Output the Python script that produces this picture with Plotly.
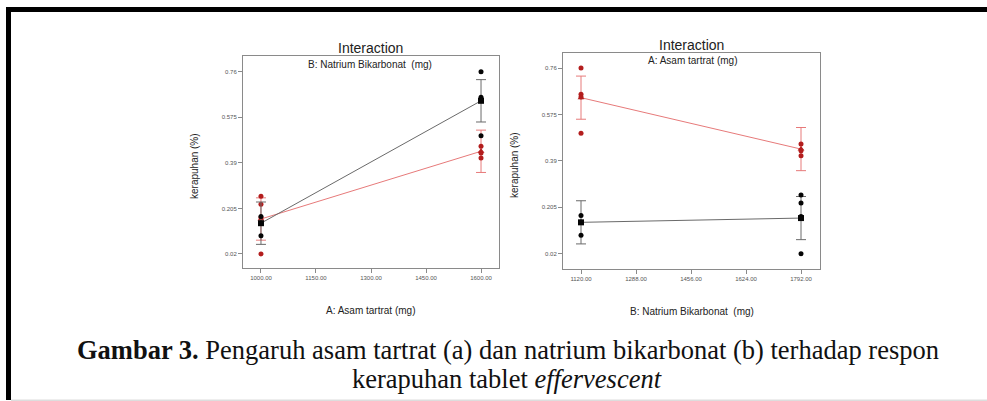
import plotly.graph_objects as go

W, H = 987, 401

# ---------------- data ----------------
a_levels = [1000, 1600]          # A: Asam tartrat (mg)
b_levels = [1120, 1792]          # B: Natrium Bikarbonat (mg)

# predicted means (interaction)
mean_b_low = [0.145, 0.642]      # B = 1120, over A levels
mean_b_high = [0.162, 0.437]     # B = 1792, over A levels
err_half = [0.086, 0.086]

# design points per cell
pts_a_low_b_low = [0.172, 0.145, 0.145, 0.094]
pts_a_low_b_high = [0.254, 0.222, 0.168, 0.02]
pts_a_high_b_low = [0.76, 0.656, 0.645, 0.50]
pts_a_high_b_high = [0.457, 0.43, 0.41]

y_ticks = [0.02, 0.205, 0.39, 0.575, 0.76]
y_tick_text = ["0.02", "0.205", "0.39", "0.575", "0.76"]
a_ticks = [1000, 1150, 1300, 1450, 1600]
b_ticks = [1120, 1288, 1456, 1624, 1792]

BLACK_LINE = "#6a6a6a"
BLACK_PT = "#050505"
RED_LINE = "#e77a7a"
RED_PT = "#b31d1d"
SANS = "Liberation Sans, Arial, sans-serif"
SERIF = "Liberation Serif, Times New Roman, serif"


def px(x):
    return x / W


def py(y):
    return 1 - y / H


fig = go.Figure()


def add_series(xlevels, means, pts_lists, line_color, pt_color, mean_symbol, xa, ya):
    fig.add_trace(go.Scatter(
        x=xlevels, y=means, mode="lines",
        line=dict(color=line_color, width=1),
        error_y=dict(type="data", array=err_half, color=line_color, thickness=1, width=5),
        xaxis=xa, yaxis=ya, showlegend=False, hoverinfo="skip"))
    px_, py_ = [], []
    for lvl, pts in zip(xlevels, pts_lists):
        for v in pts:
            px_.append(lvl)
            py_.append(v)
    fig.add_trace(go.Scatter(
        x=px_, y=py_, mode="markers",
        marker=dict(color=pt_color, size=5, symbol="circle"),
        xaxis=xa, yaxis=ya, showlegend=False))
    fig.add_trace(go.Scatter(
        x=xlevels, y=means, mode="markers",
        marker=dict(color=pt_color, size=6, symbol=mean_symbol),
        xaxis=xa, yaxis=ya, showlegend=False))


# Left: x = A, series by B
add_series(a_levels, mean_b_high, [pts_a_low_b_high, pts_a_high_b_high],
           RED_LINE, RED_PT, "triangle-up", "x", "y")
add_series(a_levels, mean_b_low, [pts_a_low_b_low, pts_a_high_b_low],
           BLACK_LINE, BLACK_PT, "square", "x", "y")

# Right: x = B, series by A
mean_a_low = [mean_b_low[0], mean_b_high[0]]
mean_a_high = [mean_b_low[1], mean_b_high[1]]
add_series(b_levels, mean_a_high, [pts_a_high_b_low, pts_a_high_b_high],
           RED_LINE, RED_PT, "triangle-up", "x2", "y2")
add_series(b_levels, mean_a_low, [pts_a_low_b_low, pts_a_low_b_high],
           BLACK_LINE, BLACK_PT, "square", "x2", "y2")

axis_common = dict(showline=True, mirror=True, linecolor="#8a8a8a", linewidth=1,
                   ticks="outside", ticklen=4, tickcolor="#8a8a8a",
                   showgrid=False, zeroline=False,
                   tickfont=dict(family=SANS, size=6, color="#555555"))

fig.update_layout(
    width=W, height=H, margin=dict(l=0, r=0, t=0, b=0),
    paper_bgcolor="white", plot_bgcolor="white",
    xaxis=dict(domain=[px(243), px(499)], range=[951, 1649],
               tickvals=a_ticks, ticktext=[f"{v:.2f}" for v in a_ticks],
               anchor="y", **axis_common),
    yaxis=dict(domain=[py(268), py(56)], range=[-0.037, 0.824],
               tickvals=y_ticks, ticktext=y_tick_text, anchor="x", **axis_common),
    xaxis2=dict(domain=[px(563), px(820)], range=[1065, 1850],
                tickvals=b_ticks, ticktext=[f"{v:.2f}" for v in b_ticks],
                anchor="y2", **axis_common),
    yaxis2=dict(domain=[py(269), py(53)], range=[-0.041, 0.82],
                tickvals=y_ticks, ticktext=y_tick_text, anchor="x2", **axis_common),
)

ann = []


def text(x, y, s, size, family=SANS, color="#222222", angle=0):
    ann.append(dict(x=px(x), y=py(y), xref="paper", yref="paper", text=s,
                    showarrow=False, xanchor="center", yanchor="middle",
                    textangle=angle, font=dict(family=family, size=size, color=color)))


text(370, 48, "Interaction", 14)
text(691, 45, "Interaction", 14)
text(370, 64, "B: Natrium Bikarbonat  (mg)", 10)
text(692, 60, "A: Asam tartrat (mg)", 10)
text(370, 310, "A: Asam tartrat (mg)", 10)
text(692, 311, "B: Natrium Bikarbonat  (mg)", 10)
text(194, 166, "kerapuhan (%)", 10, angle=-90)
text(514, 165, "kerapuhan (%)", 10, angle=-90)
text(508, 350, "<b>Gambar 3.</b> Pengaruh asam tartrat (a) dan natrium bikarbonat (b) terhadap respon",
     26.5, family=SERIF, color="#111111")
text(507, 379, "kerapuhan tablet <i>effervescent</i>", 26.5, family=SERIF, color="#111111")

fig.update_layout(annotations=ann)

shapes = [
    dict(type="rect", xref="paper", yref="paper", x0=px(6), x1=1, y0=py(12), y1=py(7),
         fillcolor="black", line=dict(width=0)),
    dict(type="rect", xref="paper", yref="paper", x0=px(6), x1=px(11), y0=py(400), y1=py(7),
         fillcolor="black", line=dict(width=0)),
    dict(type="rect", xref="paper", yref="paper", x0=px(11), x1=1, y0=py(401), y1=py(399.5),
         fillcolor="#dddddd", line=dict(width=0)),
]
fig.update_layout(shapes=shapes)

fig.write_html("out.html", config={"displayModeBar": False},
               post_script="document.body.style.margin='0';document.body.style.padding='0';"
                           "document.body.style.overflow='hidden';")
